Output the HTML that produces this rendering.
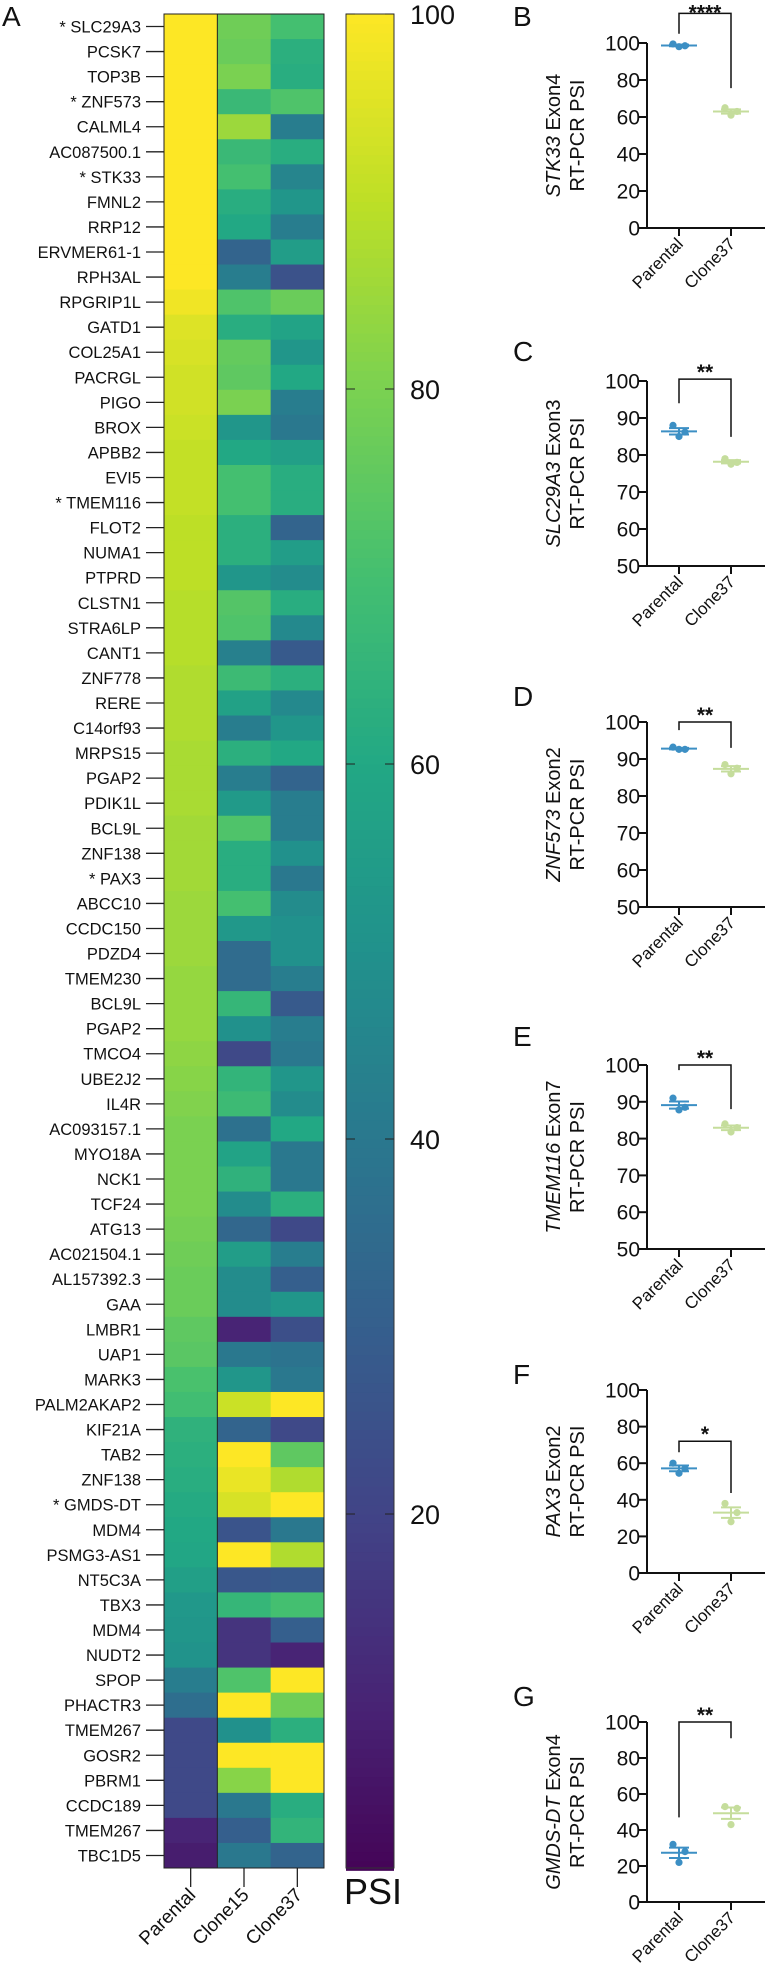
<!DOCTYPE html>
<html><head><meta charset="utf-8">
<style>
html,body{margin:0;padding:0;background:#fff;}
svg{display:block;font-family:"Liberation Sans",Arial,sans-serif;}
</style></head>
<body>
<svg id="fig" width="770" height="1984" viewBox="0 0 770 1984" xmlns="http://www.w3.org/2000/svg">
<rect x="0" y="0" width="770" height="1984" fill="#fff"/>
<g id="heat"></g>
<g id="cbar"></g>
<g id="panels"></g>
</svg>
<script>
// ---------- Heatmap data ----------
const genes = ["SLC29A3","PCSK7","TOP3B","ZNF573","CALML4","AC087500.1","STK33","FMNL2","RRP12","ERVMER61-1","RPH3AL","RPGRIP1L","GATD1","COL25A1","PACRGL","PIGO","BROX","APBB2","EVI5","TMEM116","FLOT2","NUMA1","PTPRD","CLSTN1","STRA6LP","CANT1","ZNF778","RERE","C14orf93","MRPS15","PGAP2","PDIK1L","BCL9L","ZNF138","PAX3","ABCC10","CCDC150","PDZD4","TMEM230","BCL9L","PGAP2","TMCO4","UBE2J2","IL4R","AC093157.1","MYO18A","NCK1","TCF24","ATG13","AC021504.1","AL157392.3","GAA","LMBR1","UAP1","MARK3","PALM2AKAP2","KIF21A","TAB2","ZNF138","GMDS-DT","MDM4","PSMG3-AS1","NT5C3A","TBX3","MDM4","NUDT2","SPOP","PHACTR3","TMEM267","GOSR2","PBRM1","CCDC189","TMEM267","TBC1D5"];
const starred = ["SLC29A3","ZNF573","STK33","TMEM116","PAX3","GMDS-DT"];
const samples = ["Parental","Clone15","Clone37"];
const parental = [100,100,100,100,100,100,100,100,100,100,100,98,95,94,93,93,92,91,91,91,90,90,90,89,89,89,88,88,88,87,87,87,86,86,86,85,85,85,84,84,84,83,82,81,80,80,80,80,79,78,77,77,75,74,71,69,64,63,62,61,60,59,56,53,52,51,42,36,22,22,22,22,10,8];
const clone15 = [78,77,80,67,85,67,70,62,60,32,42,72,62,76,75,80,52,60,70,70,63,63,52,73,72,43,68,57,42,63,42,54,72,62,62,70,53,35,35,66,50,22,65,68,37,58,64,48,33,55,48,48,10,40,52,92,32,100,97,94,26,100,27,66,15,15,72,100,50,100,82,40,30,40];
const clone37 = [70,63,62,72,42,62,45,52,42,55,25,77,58,52,60,42,40,56,62,62,32,55,48,62,47,28,63,47,52,60,32,42,42,50,40,48,50,50,42,28,42,40,52,48,60,40,40,63,22,42,30,52,24,38,40,100,22,75,88,100,40,88,28,70,30,10,100,78,63,100,100,62,65,32];
const cbTicks = [100,80,60,40,20];

// ---------- Dot plot data ----------
const panelLetters = ["B","C","D","E","F","G"];
const panelGenes = ["STK33","SLC29A3","ZNF573","TMEM116","PAX3","GMDS-DT"];
const panelExons = [" Exon4"," Exon3"," Exon2"," Exon7"," Exon2"," Exon4"];
const panelYMin = [0,50,50,50,0,0];
const panelYStep = [20,10,10,10,20,20];
const parentalPts = [[99.5,98,98.5],[88,85,86.2],[93.2,92.6,92.6],[91,87.8,88.5],[60,54.5,57],[32,22,28]];
const clonePts = [[65,61,63],[79,77.5,78],[88.5,86,87.5],[84,81.8,83],[38,28,33],[53,43,52]];
const bracketTop = [116,100.5,100,100,72,100];
const bracketLeft = [105,94,97.8,98.6,66,47];
const bracketRight = [75.6,84.9,93,88,43.7,91];
const sigLabels = ["****","**","**","**","*","**"];
const groups = ["Parental","Clone37"];

// ---------- helpers ----------
const NS = "http://www.w3.org/2000/svg";
function mk(tag, attrs, parent){const e=document.createElementNS(NS,tag);for(const k in attrs)e.setAttribute(k,attrs[k]);if(parent)parent.appendChild(e);return e;}
const vir = ["#440154","#482475","#414487","#355f8d","#2a788e","#21918c","#22a884","#44bf70","#7ad151","#bddf26","#fde725"];
function hex(h){return [parseInt(h.substr(1,2),16),parseInt(h.substr(3,2),16),parseInt(h.substr(5,2),16)];}
function color(v){let t=Math.max(0,Math.min(1,v/100))*10;let i=Math.min(9,Math.floor(t));let f=t-i;const a=hex(vir[i]),b=hex(vir[i+1]);
  return "rgb("+a.map((c,j)=>Math.round(c+(b[j]-c)*f)).join(",")+")";}

// ---------- heatmap ----------
const heat = document.getElementById("heat");
const hx0=164, hx1=324, hy0=14, hy1=1868;
const colW=(hx1-hx0)/3, rowH=(hy1-hy0)/genes.length;
const cols=[parental,clone15,clone37];
function rowY(i){return hy0+i*rowH;}
function colX(j){return hx0+j*colW;}
cols.forEach((arr,j)=>{
  arr.forEach((v,i)=>{
    const r=mk("rect",{x:colX(j),y:rowY(i),width:colW+0.5,height:rowH+0.5,fill:color(v)},heat);
    
    
  });
});
let bd=mk("rect",{x:hx0,y:hy0,width:hx1-hx0,height:hy1-hy0,fill:"none",stroke:"#222","stroke-width":1},heat);


mk("line",{x1:colX(1),x2:colX(1),y1:hy0,y2:hy1,stroke:"#222","stroke-width":1},heat);
genes.forEach((g,i)=>{
  const cy=rowY(i)+rowH/2;
  mk("line",{x1:146,x2:164,y1:cy,y2:cy,stroke:"#222","stroke-width":1.3},heat);
  const t=mk("text",{x:141,y:cy+6,"text-anchor":"end","font-size":"16.5",fill:"#111"},heat);
  t.textContent=(starred.includes(g)?"* ":"")+g;
  
  
});
samples.forEach((s,j)=>{
  const cx=colX(j)+colW/2;
  mk("line",{x1:cx,x2:cx,y1:hy1,y2:hy1+19,stroke:"#222","stroke-width":1.3},heat);
  const t=mk("text",{x:cx+6,y:hy1+28,"text-anchor":"end","font-size":"19",fill:"#111",transform:"rotate(-45 "+(cx+6)+" "+(hy1+28)+")"},heat);
  t.textContent=s;
  
  
});

// ---------- colorbar ----------
const cb=document.getElementById("cbar");
const cbx0=346, cbx1=394;
function cbY(v){return 14+(100-v)*18.75;}
for(let v=1; v<100; v+=0.5){
  const y1=cbY(v+0.5), y2=cbY(v);
  mk("rect",{x:cbx0,y:y1,width:cbx1-cbx0,height:y2-y1+0.6,fill:color(v+0.25)},cb);
}
mk("rect",{x:cbx0,y:14,width:cbx1-cbx0,height:hy1-14,fill:"none",stroke:"#333","stroke-width":1},cb);
cbTicks.forEach(v=>{
  const y=cbY(v);
  mk("line",{x1:cbx0,x2:cbx0+9,y1:y,y2:y,stroke:"#222","stroke-width":1},cb);
  mk("line",{x1:cbx1-9,x2:cbx1,y1:y,y2:y,stroke:"#222","stroke-width":1},cb);
  const t=mk("text",{x:410,y:y+10,"font-size":"27",fill:"#111"},cb);
  t.textContent=v;
  
  
});
const psi=mk("text",{x:344,y:1904,"font-size":"36",fill:"#111"},cb);
psi.textContent="PSI";


const la=mk("text",{x:2,y:26,"font-size":"28",fill:"#111"},heat);
la.textContent="A";



// ---------- dot plots ----------
const panels=document.getElementById("panels");
const axTop=[43,381,722,1065,1390,1722];
const axBot=[228,566,907,1249,1573,1902];
const letterY=[26,361,706,1046,1384,1706];
const ax=647, axEnd=765, catX=[679,731];
const grpColor=["#3c8fc4","#c5dd9c"];
panelLetters.forEach((L,p)=>{
  const g=mk("g",{},panels);
  
  
  const y0=panelYMin[p];
  const sc=v=>axBot[p]-(v-y0)/(100-y0)*(axBot[p]-axTop[p]);
  const lt=mk("text",{x:513,y:letterY[p],"font-size":"28",fill:"#111"},g);
  lt.textContent=L;
  mk("line",{x1:ax,x2:ax,y1:axTop[p],y2:axBot[p],stroke:"#111","stroke-width":2},g);
  mk("line",{x1:ax-9,x2:axEnd,y1:axBot[p],y2:axBot[p],stroke:"#111","stroke-width":2},g);
  for(let v=y0; v<=100; v+=panelYStep[p]){
    const y=sc(v);
    mk("line",{x1:ax-8,x2:ax,y1:y,y2:y,stroke:"#111","stroke-width":2},g);
    const t=mk("text",{x:640,y:y+7.5,"text-anchor":"end","font-size":"21",fill:"#111"},g);
    t.textContent=v;
    
    
  }
  const cy=(axTop[p]+axBot[p])/2;
  const t1=mk("text",{x:560,y:cy,"text-anchor":"middle","font-size":"20",fill:"#111",transform:"rotate(-90 560 "+cy+")"},g);
  const ts=mk("tspan",{"font-style":"italic"},t1); ts.textContent=panelGenes[p];
  const ts2=mk("tspan",{},t1); ts2.textContent=panelExons[p];
  
  
  const t2=mk("text",{x:584,y:cy,"text-anchor":"middle","font-size":"20",fill:"#111",transform:"rotate(-90 584 "+cy+")"},g);
  t2.textContent="RT-PCR PSI";
  groups.forEach((gn,k)=>{
    const x=catX[k];
    mk("line",{x1:x,x2:x,y1:axBot[p],y2:axBot[p]+8,stroke:"#111","stroke-width":2},g);
    const tx=x+5, ty=axBot[p]+17;
    const t=mk("text",{x:tx,y:ty,"text-anchor":"end","font-size":"17",fill:"#111",transform:"rotate(-45 "+tx+" "+ty+")"},g);
    t.textContent=gn;
    
    
    const pts=k===0?parentalPts[p]:clonePts[p];
    const n=pts.length, m=pts.reduce((a,b)=>a+b,0)/n;
    const sd=Math.sqrt(pts.reduce((a,b)=>a+(b-m)*(b-m),0)/(n-1)), se=sd/Math.sqrt(n);
    const col=grpColor[k];
    pts.forEach((v,i)=>{
      const c=mk("circle",{cx:x+(i-1)*6,cy:sc(v),r:3.6,fill:col},g);
      
      
    });
    mk("line",{x1:x-18,x2:x+18,y1:sc(m),y2:sc(m),stroke:col,"stroke-width":2},g);
    mk("line",{x1:x,x2:x,y1:sc(m+se),y2:sc(m-se),stroke:col,"stroke-width":2},g);
    mk("line",{x1:x-10,x2:x+10,y1:sc(m+se),y2:sc(m+se),stroke:col,"stroke-width":2},g);
    mk("line",{x1:x-10,x2:x+10,y1:sc(m-se),y2:sc(m-se),stroke:col,"stroke-width":2},g);
  });
  const by=sc(bracketTop[p]);
  const br=mk("path",{d:"M"+catX[0]+" "+sc(bracketLeft[p])+" V"+by+" H"+catX[1]+" V"+sc(bracketRight[p]),fill:"none",stroke:"#111","stroke-width":1.5},g);
  
  
  const st=mk("text",{x:(catX[0]+catX[1])/2,y:by+(p===0?6:0),"text-anchor":"middle","font-size":"21","font-weight":"bold",fill:"#111"},g);
  st.textContent=sigLabels[p];
  
  
});
</script>
</body></html>
